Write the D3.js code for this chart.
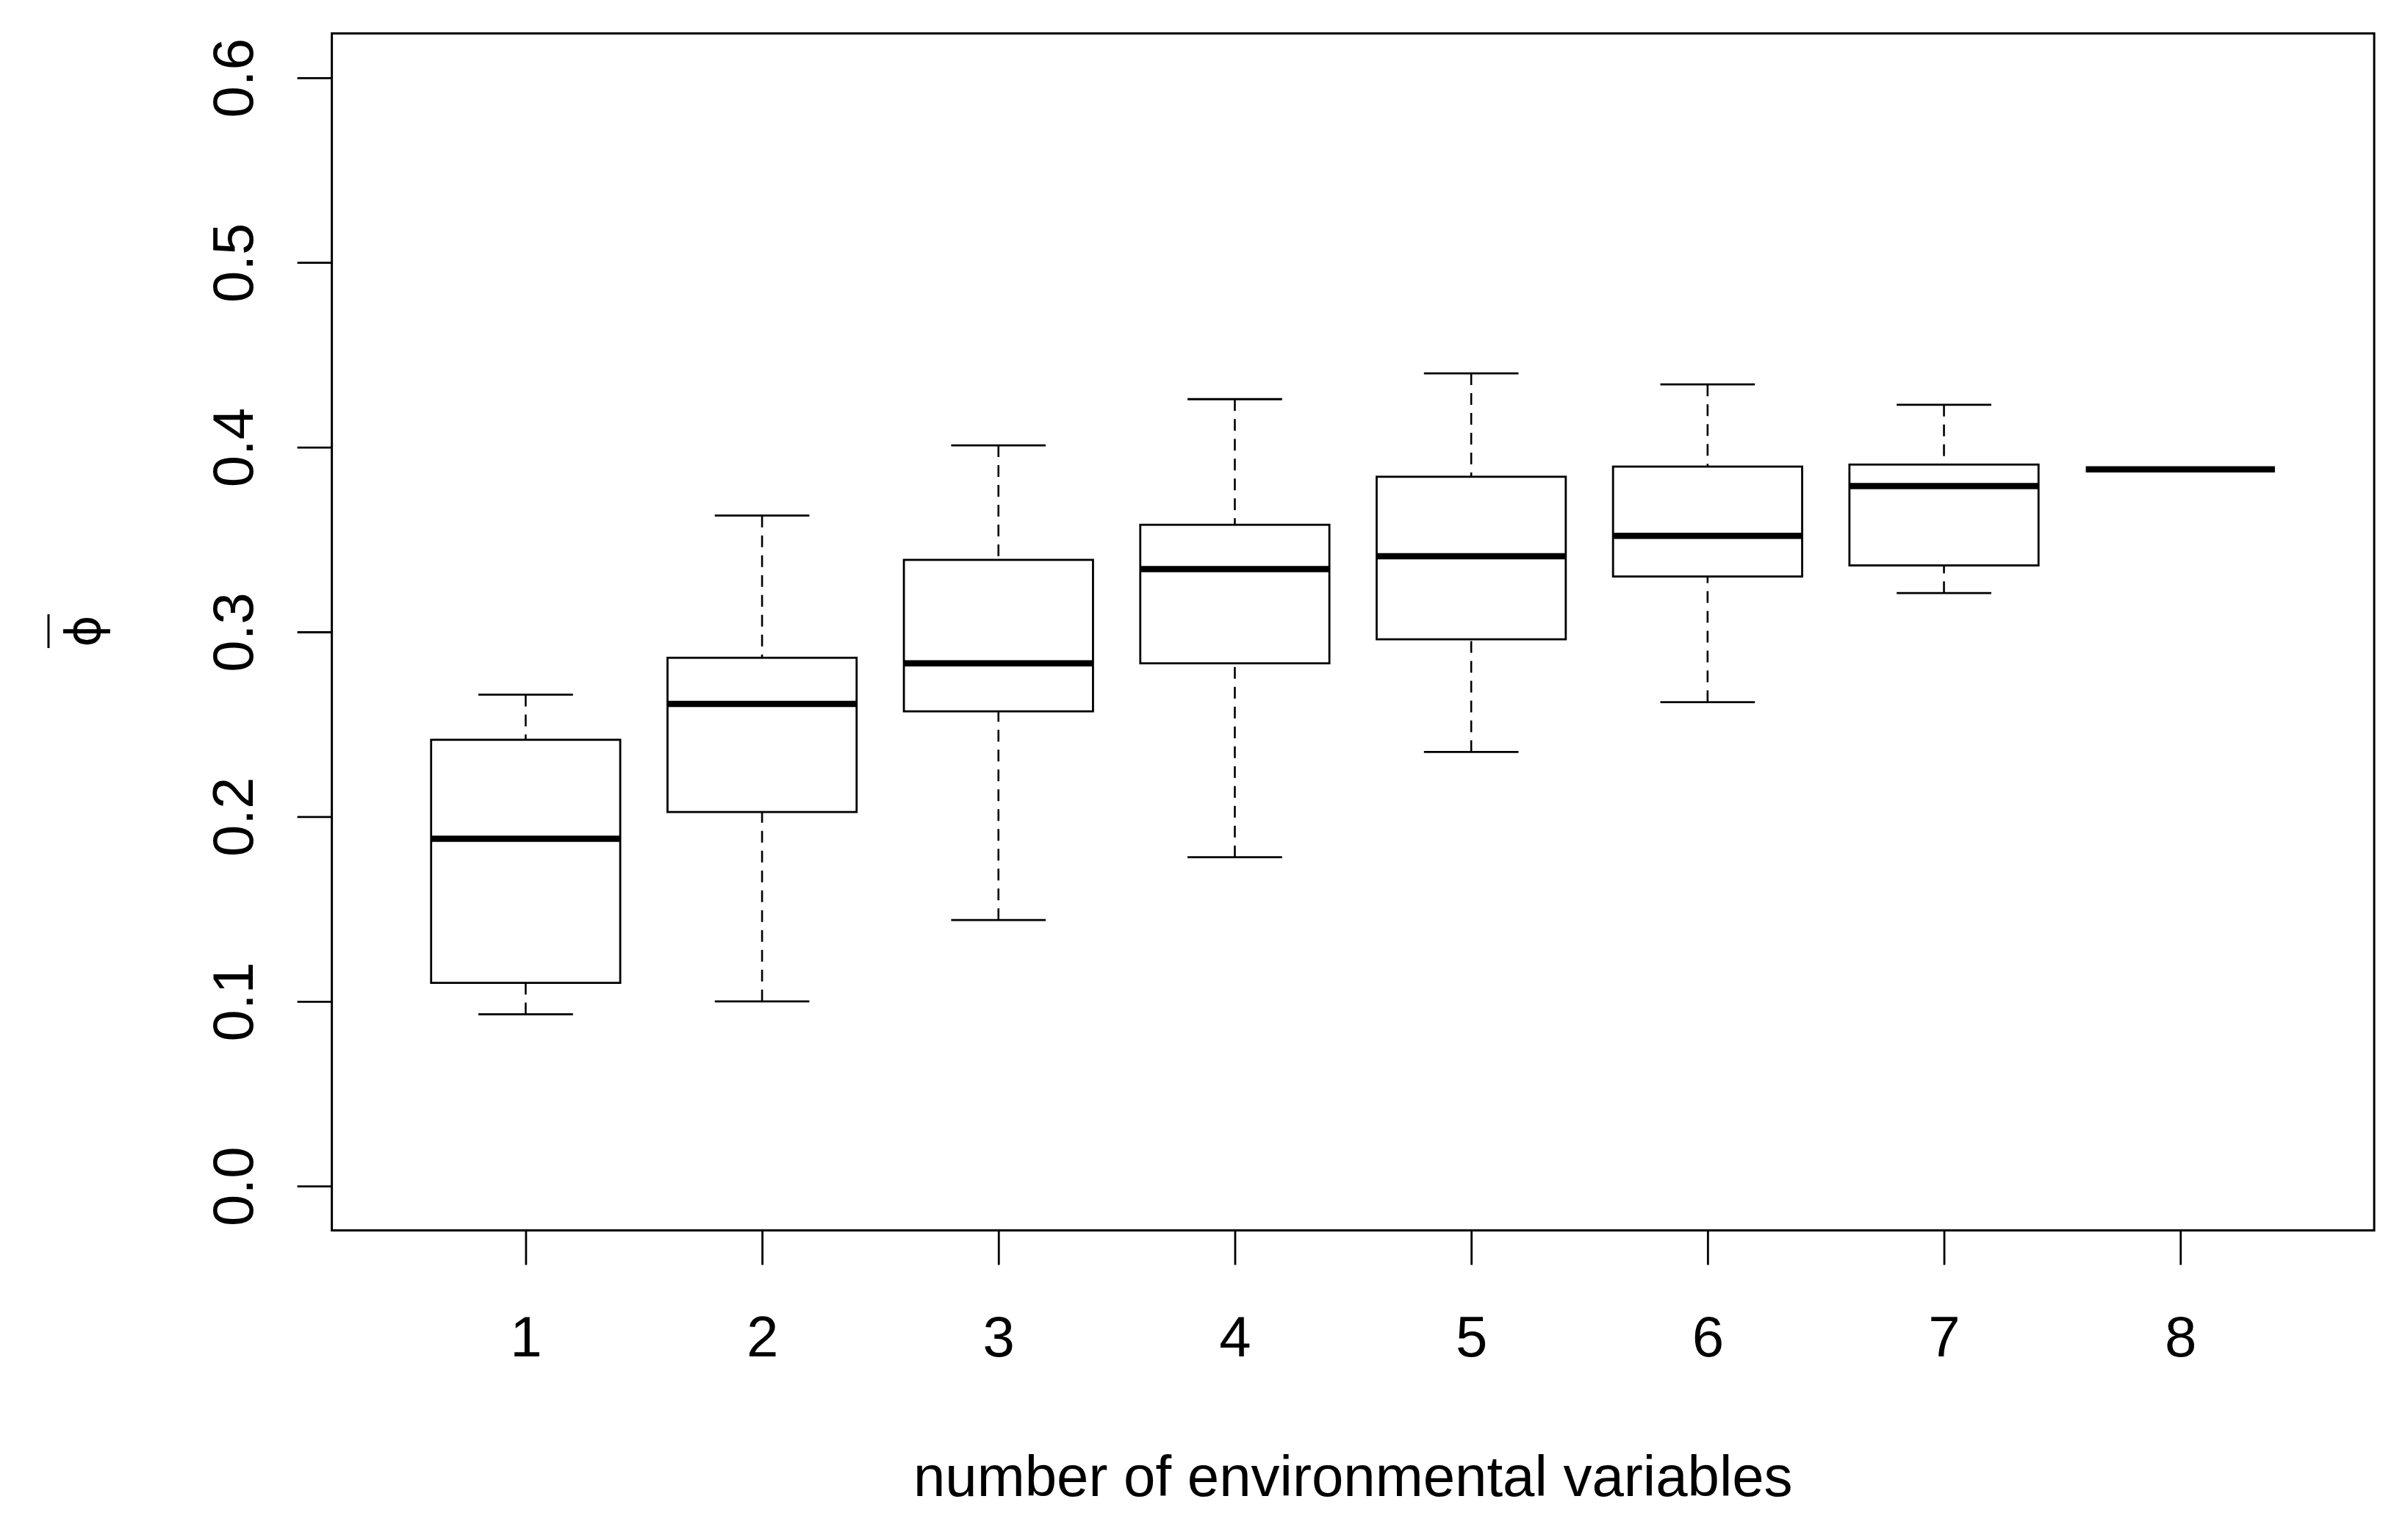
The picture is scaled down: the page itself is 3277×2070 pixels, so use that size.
<!DOCTYPE html>
<html>
<head>
<meta charset="utf-8">
<script src="https://cdn.jsdelivr.net/npm/d3@7"></script>
<style>
  body { margin: 0; background: #fff; }
  svg { display: block; }
  text { font-family: "Liberation Sans", Arial, sans-serif; fill: #000; }
</style>
</head>
<body>
<div id="chart"></div>
<script>
// Box plot summaries, one per number of environmental variables
const groups = [1, 2, 3, 4, 5, 6, 7, 8];
const whiskerLow = [0.093, 0.100, 0.144, 0.178, 0.235, 0.262, 0.321, 0.388];
const q1 = [0.110, 0.2025, 0.257, 0.283, 0.296, 0.330, 0.336, 0.388];
const median = [0.188, 0.261, 0.283, 0.334, 0.341, 0.352, 0.379, 0.388];
const q3 = [0.2416, 0.286, 0.339, 0.358, 0.384, 0.3895, 0.3906, 0.388];
const whiskerHigh = [0.266, 0.363, 0.401, 0.426, 0.440, 0.434, 0.423, 0.388];

const yTicks = [0, 0.1, 0.2, 0.3, 0.4, 0.5, 0.6];
const xLabel = "number of environmental variables";
const yLabel = "\u03D5";

const width = 3277;
const height = 2070;
const plotLeft = 451.6, plotRight = 3231, plotTop = 45.5, plotBottom = 1674.5;

const boxes = groups.map((g, i) => ({
  g,
  lo: whiskerLow[i],
  q1: q1[i],
  med: median[i],
  q3: q3[i],
  hi: whiskerHigh[i],
}));

const svg = d3
  .select("#chart")
  .append("svg")
  .attr("width", width)
  .attr("height", height);

svg.append("rect").attr("width", width).attr("height", height).attr("fill", "#fff");

// R style ranges: extended by 4% on each side
const x = d3.scaleLinear().domain([0.18, 8.82]).range([plotLeft, plotRight]);
const y = d3.scaleLinear().domain([-0.024, 0.624]).range([plotBottom, plotTop]);

const boxW = x(0.4) - x(0);
const capW = x(0.2) - x(0);

// Boxes
const bx = svg
  .append("g")
  .selectAll("g")
  .data(boxes)
  .join("g");

// dashed whiskers
bx.append("line")
  .attr("x1", (d) => x(d.g))
  .attr("x2", (d) => x(d.g))
  .attr("y1", (d) => y(d.hi))
  .attr("y2", (d) => y(d.q3))
  .attr("stroke", "#000")
  .attr("stroke-width", 2.6)
  .attr("stroke-dasharray", "16,11");

bx.append("line")
  .attr("x1", (d) => x(d.g))
  .attr("x2", (d) => x(d.g))
  .attr("y1", (d) => y(d.lo))
  .attr("y2", (d) => y(d.q1))
  .attr("stroke", "#000")
  .attr("stroke-width", 2.6)
  .attr("stroke-dasharray", "16,11");

// staples
["hi", "lo"].forEach((k) => {
  bx.append("line")
    .attr("x1", (d) => x(d.g) - capW)
    .attr("x2", (d) => x(d.g) + capW)
    .attr("y1", (d) => y(d[k]))
    .attr("y2", (d) => y(d[k]))
    .attr("stroke", "#000")
    .attr("stroke-width", 2.8);
});

// box
bx.append("rect")
  .attr("x", (d) => x(d.g) - boxW)
  .attr("width", boxW * 2)
  .attr("y", (d) => y(d.q3))
  .attr("height", (d) => y(d.q1) - y(d.q3))
  .attr("fill", "#fff")
  .attr("stroke", "#000")
  .attr("stroke-width", 2.8);

// median
bx.append("line")
  .attr("x1", (d) => x(d.g) - boxW)
  .attr("x2", (d) => x(d.g) + boxW)
  .attr("y1", (d) => y(d.med))
  .attr("y2", (d) => y(d.med))
  .attr("stroke", "#000")
  .attr("stroke-width", 8.5);

// Frame
svg.append("rect")
  .attr("x", plotLeft)
  .attr("y", plotTop)
  .attr("width", plotRight - plotLeft)
  .attr("height", plotBottom - plotTop)
  .attr("fill", "none")
  .attr("stroke", "#000")
  .attr("stroke-width", 3);

// Y axis
const yAxis = svg
  .append("g")
  .attr("transform", `translate(${plotLeft},0)`)
  .call(
    d3.axisLeft(y).tickValues(yTicks).tickSize(47).tickFormat(d3.format(".1f"))
  );
yAxis.select(".domain").remove();
yAxis.selectAll(".tick line").attr("stroke", "#000").attr("stroke-width", 2.8);
yAxis
  .selectAll(".tick text")
  .attr("x", null)
  .attr("dy", null)
  .attr("text-anchor", "middle")
  .attr("transform", `translate(${344 - plotLeft},0) rotate(-90)`)
  .style("font-size", "78px")
  .style("font-family", '"Liberation Sans", Arial, sans-serif')
  .attr("fill", "#000");

// X axis
const xAxis = svg
  .append("g")
  .attr("transform", `translate(0,${plotBottom})`)
  .call(d3.axisBottom(x).tickValues(groups).tickSize(47).tickFormat(d3.format("d")));
xAxis.select(".domain").remove();
xAxis.selectAll(".tick line").attr("stroke", "#000").attr("stroke-width", 2.8);
xAxis
  .selectAll(".tick text")
  .attr("y", 1846 - plotBottom)
  .attr("dy", null)
  .style("font-size", "78px")
  .style("font-family", '"Liberation Sans", Arial, sans-serif')
  .attr("fill", "#000");

// Axis titles
svg.append("text")
  .attr("x", (plotLeft + plotRight) / 2)
  .attr("y", 2036)
  .attr("text-anchor", "middle")
  .style("font-size", "78px")
  .text(xLabel);

const yl = svg.append("g").attr("transform", "translate(136,859) rotate(-90)");
yl.append("text")
  .attr("text-anchor", "middle")
  .style("font-family", '"DejaVu Sans", sans-serif')
  .style("font-size", "66px")
  .text(yLabel);
yl.append("line")
  .attr("x1", -23)
  .attr("x2", 23)
  .attr("y1", -70)
  .attr("y2", -70)
  .attr("stroke", "#000")
  .attr("stroke-width", 3);
</script>
</body>
</html>
